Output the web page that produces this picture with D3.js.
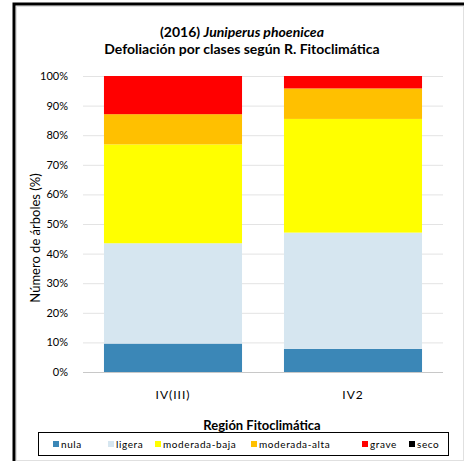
<!DOCTYPE html>
<html>
<head>
<meta charset="utf-8">
<script src="https://cdn.jsdelivr.net/npm/d3@7"></script>
<style>
  body { margin: 0; background: #fff; }
  svg text { font-family: Lato, "Open Sans", sans-serif; fill: #000; }
</style>
</head>
<body>
<svg id="viz"></svg>
<script>
// Defoliacion por clases - Juniperus phoenicea (2016)
const regions = ["IV(III)", "IV2"];
const classes = ["nula", "ligera", "moderada-baja", "moderada-alta", "grave", "seco"];
const colors = ["#3b87b7", "#d6e6f0", "#ffff00", "#ffc000", "#ff0000", "#000000"];
const nula = [9.6, 7.8];
const ligera = [33.9, 39.3];
const moderadaBaja = [33.4, 38.4];
const moderadaAlta = [10.2, 10.3];
const grave = [12.9, 4.2];
const seco = [0, 0];
const yTicks = [0, 10, 20, 30, 40, 50, 60, 70, 80, 90, 100];

const width = 464, height = 461;
const svg = d3.select("#viz").attr("width", width).attr("height", height);

// frame
svg.append("rect")
  .attr("x", 16.5).attr("y", 6.5)
  .attr("width", width - 17).attr("height", height - 7)
  .attr("fill", "none").attr("stroke", "#e0e0e0");
svg.append("path")
  .attr("d", `M14,${height} V4 H${width}`)
  .attr("fill", "none").attr("stroke", "#000").attr("stroke-width", 3);

// title
const title = svg.append("text")
  .attr("x", 242).attr("y", 37)
  .attr("text-anchor", "middle")
  .style("font-size", "14px").style("font-weight", "bold");
title.append("tspan").text("(2016) ");
title.append("tspan").style("font-style", "italic").text("Juniperus phoenicea");
svg.append("text")
  .attr("x", 242).attr("y", 54)
  .attr("text-anchor", "middle")
  .style("font-size", "14px").style("font-weight", "bold")
  .text("Defoliación por clases según R. Fitoclimática");

const plot = { left: 83, right: 443, top: 76, bottom: 372 };

const x = d3.scaleBand()
  .domain(regions)
  .range([plot.left, plot.right])
  .paddingInner(0.233)
  .paddingOuter(0.1165);

const y = d3.scaleLinear()
  .domain([0, 100])
  .range([plot.bottom, plot.top]);

// gridlines
svg.append("g").selectAll("line")
  .data(yTicks)
  .enter().append("line")
  .attr("x1", plot.left).attr("x2", plot.right)
  .attr("y1", d => y(d) + 0.5).attr("y2", d => y(d) + 0.5)
  .attr("stroke", d => d === 0 ? "#c8c8c8" : "#e3e3e3");

// y axis labels
const yAxis = svg.append("g")
  .attr("transform", `translate(${plot.left - 15},0)`)
  .call(d3.axisLeft(y).tickValues(yTicks).tickSize(0).tickPadding(0).tickFormat(d => d + "%"));
yAxis.select(".domain").remove();
yAxis.selectAll("text")
  .style("font-size", "11px")
  .style("font-family", "Lato, sans-serif");

// stacked bars
const rows = regions.map((r, i) => ({
  region: r,
  "nula": nula[i],
  "ligera": ligera[i],
  "moderada-baja": moderadaBaja[i],
  "moderada-alta": moderadaAlta[i],
  "grave": grave[i],
  "seco": seco[i]
}));
const stacked = d3.stack().keys(classes)(rows);
const color = d3.scaleOrdinal().domain(classes).range(colors);

svg.append("g").selectAll("g")
  .data(stacked)
  .enter().append("g")
  .attr("fill", d => color(d.key))
  .selectAll("rect")
  .data(d => d)
  .enter().append("rect")
  .attr("x", d => x(d.data.region))
  .attr("width", x.bandwidth())
  .attr("y", d => y(d[1]))
  .attr("height", d => y(d[0]) - y(d[1]));

// x axis labels
const xAxis = svg.append("g")
  .attr("transform", `translate(0,${plot.bottom + 18})`)
  .call(d3.axisBottom(x).tickSize(0).tickPadding(0));
xAxis.select(".domain").remove();
xAxis.selectAll("text")
  .style("font-size", "12px")
  .style("letter-spacing", "1px")
  .style("font-family", "Lato, sans-serif");

// axis titles
svg.append("text")
  .attr("x", 262).attr("y", 430)
  .attr("text-anchor", "middle")
  .style("font-size", "13px").style("font-weight", "bold")
  .text("Región Fitoclimática");
svg.append("text")
  .attr("transform", "translate(40,238) rotate(-90)")
  .attr("text-anchor", "middle")
  .style("font-size", "13px")
  .text("Número de árboles (%)");

// legend
svg.append("rect")
  .attr("x", 38.5).attr("y", 432.5)
  .attr("width", 410).attr("height", 23)
  .attr("fill", "#fff").attr("stroke", "#000");
const legendX = [53, 108, 155, 251, 362, 409];
const legend = svg.append("g").selectAll("g")
  .data(classes)
  .enter().append("g")
  .attr("transform", (d, i) => `translate(${legendX[i]},444)`);
legend.append("rect")
  .attr("x", 0).attr("y", -3)
  .attr("width", 6).attr("height", 6)
  .attr("fill", d => color(d));
legend.append("text")
  .attr("x", 8).attr("y", 3.5)
  .style("font-size", "10px")
  .style("letter-spacing", "0.6px")
  .text(d => d);
</script>
</body>
</html>
